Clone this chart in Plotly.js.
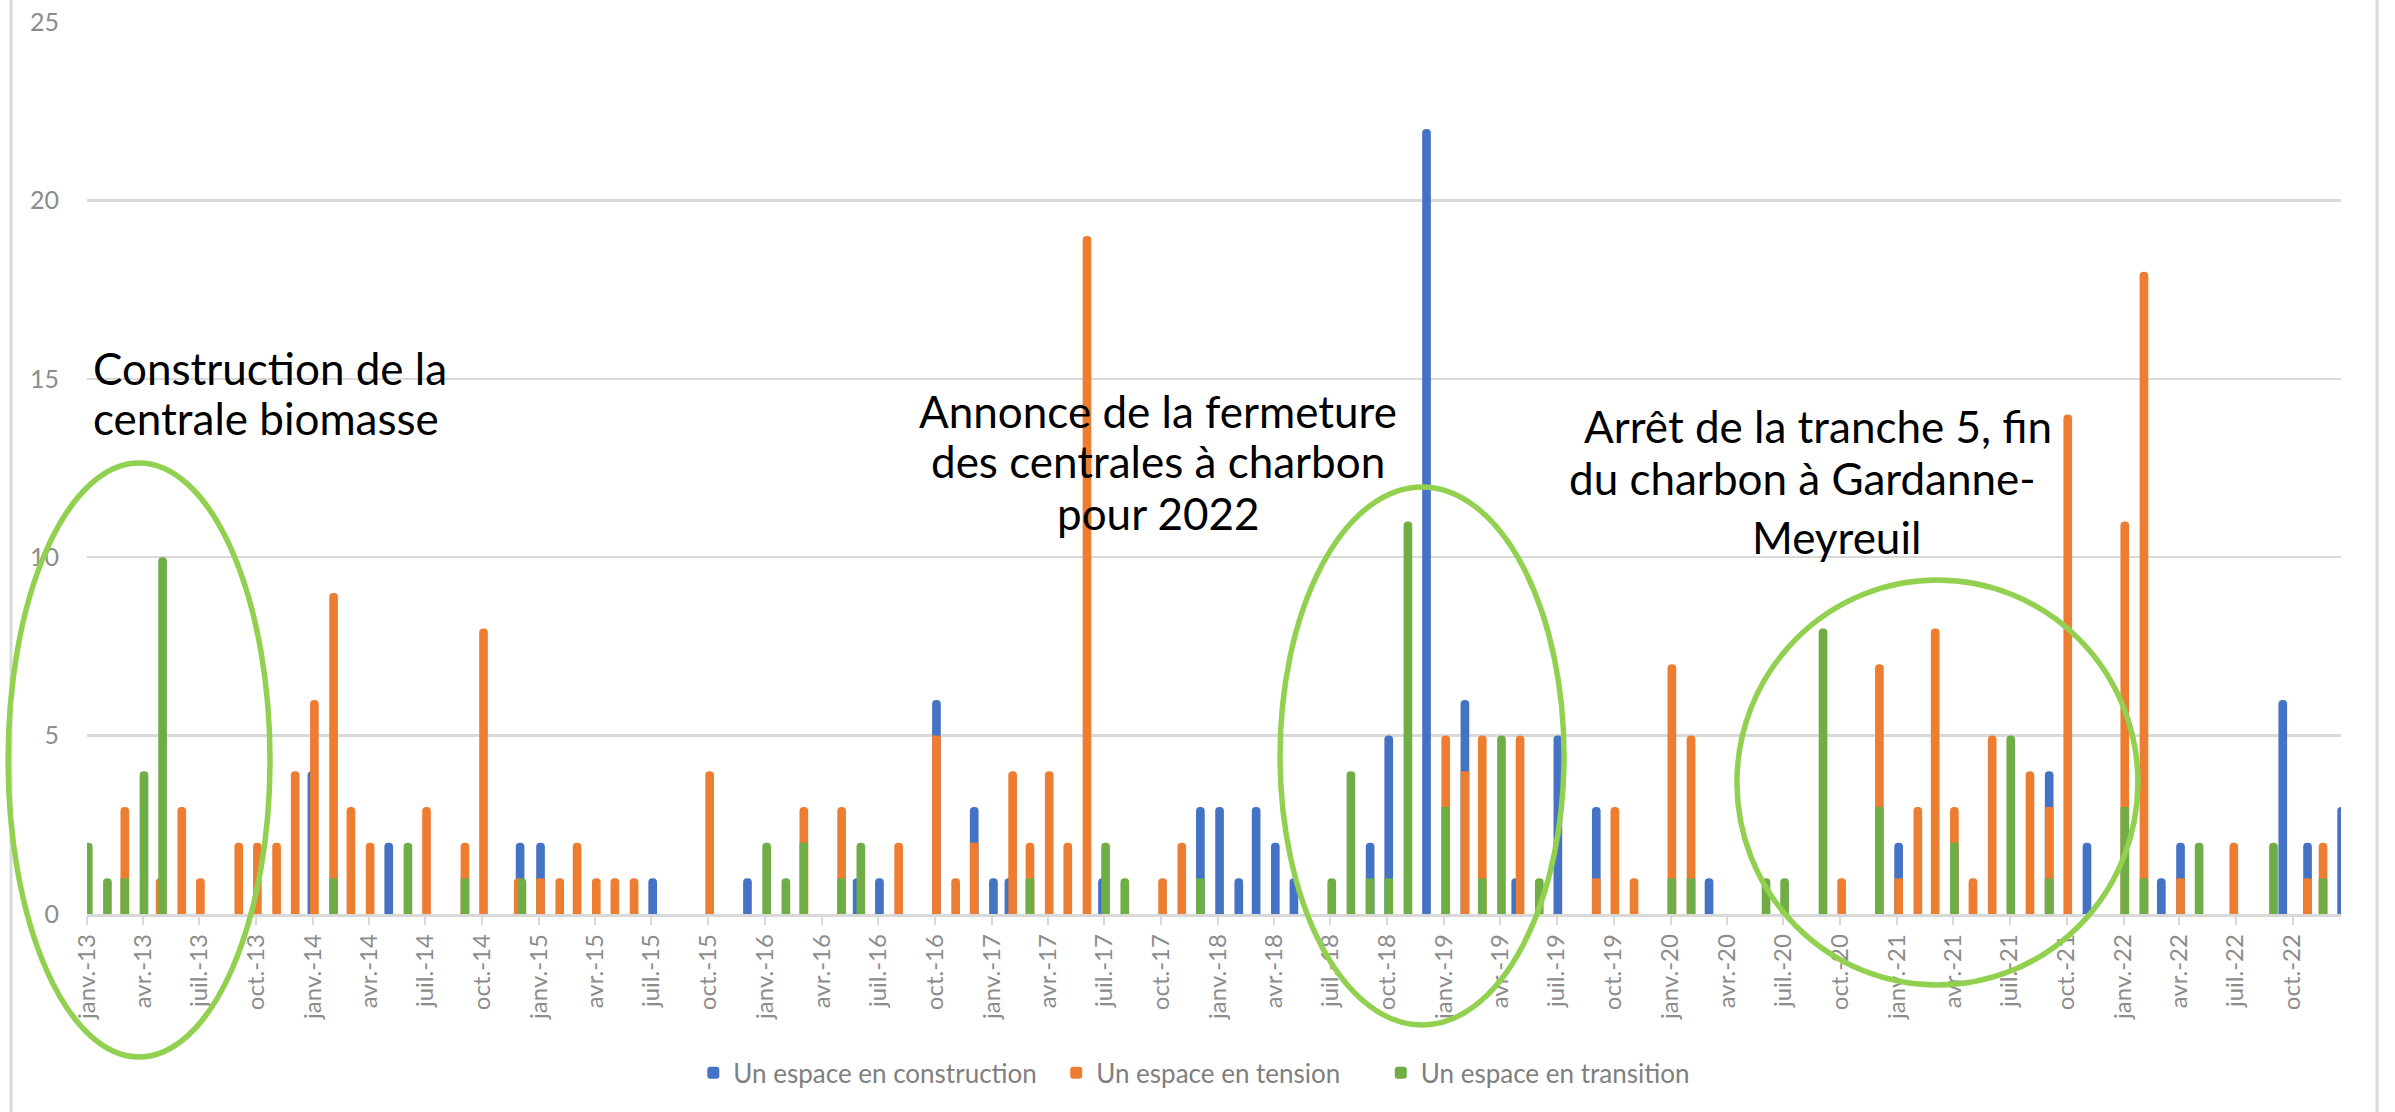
<!DOCTYPE html>
<html>
<head>
<meta charset="utf-8">
<script src="https://cdn.plot.ly/plotly-3.0.1.min.js"></script>
<style>html,body{margin:0;padding:0;background:#fff;}#chart{width:2395px;height:1112px;}</style>
</head>
<body>
<div id="chart"></div>
<script>
// ---- data ----
const seriesNames = ["Un espace en construction", "Un espace en tension", "Un espace en transition"];

const constructionDates = ["2013-12-30","2014-05-03","2014-12-01","2015-01-03","2015-07-03","2015-12-03","2016-05-28","2016-07-03","2016-10-03","2016-12-03","2017-01-03","2017-01-28","2017-06-28","2017-12-03","2018-01-03","2018-02-03","2018-03-03","2018-04-03","2018-05-03","2018-09-03","2018-10-03","2018-12-03","2019-02-03","2019-04-26","2019-07-03","2019-09-03","2020-03-03","2021-01-03","2021-09-03","2021-11-03","2022-03-03","2022-04-03","2022-09-15","2022-10-25","2022-12-19"];
const constructionValues = [4,2,2,2,1,1,1,1,6,3,1,1,1,3,3,1,3,2,1,2,5,22,6,1,5,3,1,2,4,2,1,2,6,2,3];

const tensionDates = ["2013-03-03","2013-04-29","2013-06-03","2013-07-03","2013-09-03","2013-10-03","2013-11-03","2013-12-03","2014-01-03","2014-02-03","2014-03-03","2014-04-03","2014-07-03","2014-09-03","2014-10-03","2014-11-28","2015-01-03","2015-02-03","2015-03-03","2015-04-03","2015-05-03","2015-06-03","2015-10-03","2016-03-03","2016-05-03","2016-08-03","2016-10-03","2016-11-03","2016-12-03","2017-02-03","2017-03-03","2017-04-03","2017-05-03","2017-06-03","2017-10-03","2017-11-03","2019-01-03","2019-02-03","2019-03-03","2019-05-03","2019-09-03","2019-10-03","2019-11-03","2020-01-03","2020-02-03","2020-10-03","2020-12-03","2021-01-03","2021-02-03","2021-03-03","2021-04-03","2021-05-03","2021-06-03","2021-08-03","2021-09-03","2021-10-03","2022-01-03","2022-02-03","2022-04-03","2022-06-28","2022-10-25","2022-11-19"];
const tensionValues = [3,1,3,1,2,2,2,4,6,9,3,2,3,2,8,1,1,1,2,1,1,1,4,3,3,2,5,1,2,4,2,4,2,19,1,2,5,4,5,5,1,3,1,7,5,1,7,1,3,8,3,1,5,4,3,14,11,18,1,2,1,2];

const transitionDates = ["2013-01-03","2013-02-03","2013-03-03","2013-04-03","2013-05-03","2014-02-03","2014-06-03","2014-09-03","2014-12-04","2016-01-03","2016-02-03","2016-03-03","2016-05-03","2016-06-03","2017-03-03","2017-07-03","2017-08-03","2017-12-03","2018-07-03","2018-08-03","2018-09-03","2018-10-03","2018-11-03","2019-01-03","2019-03-03","2019-04-03","2019-06-03","2020-01-03","2020-02-03","2020-06-03","2020-07-03","2020-09-03","2020-12-03","2021-04-03","2021-07-03","2021-09-03","2022-01-03","2022-02-03","2022-05-03","2022-08-31","2022-11-19"];
const transitionValues = [2,1,1,4,10,1,2,1,1,2,1,2,1,2,1,2,1,1,1,4,1,1,11,3,1,5,1,1,1,1,1,8,3,2,5,1,3,1,2,2,1];

const tickDates = ["2013-01-01","2013-04-01","2013-07-01","2013-10-01","2014-01-01","2014-04-01","2014-07-01","2014-10-01","2015-01-01","2015-04-01","2015-07-01","2015-10-01","2016-01-01","2016-04-01","2016-07-01","2016-10-01","2017-01-01","2017-04-01","2017-07-01","2017-10-01","2018-01-01","2018-04-01","2018-07-01","2018-10-01","2019-01-01","2019-04-01","2019-07-01","2019-10-01","2020-01-01","2020-04-01","2020-07-01","2020-10-01","2021-01-01","2021-04-01","2021-07-01","2021-10-01","2022-01-01","2022-04-01","2022-07-01","2022-10-01"];
const tickLabels = ["janv.-13","avr.-13","juil.-13","oct.-13","janv.-14","avr.-14","juil.-14","oct.-14","janv.-15","avr.-15","juil.-15","oct.-15","janv.-16","avr.-16","juil.-16","oct.-16","janv.-17","avr.-17","juil.-17","oct.-17","janv.-18","avr.-18","juil.-18","oct.-18","janv.-19","avr.-19","juil.-19","oct.-19","janv.-20","avr.-20","juil.-20","oct.-20","janv.-21","avr.-21","juil.-21","oct.-21","janv.-22","avr.-22","juil.-22","oct.-22"];

const annotationLines = [
  "Construction de la", "centrale biomasse",
  "Annonce de la fermeture", "des centrales à charbon", "pour 2022",
  "Arrêt de la tranche 5, fin", "du charbon à Gardanne-", "Meyreuil"
];

// ---- styling ----
const colors = ["#4472C4", "#ED7D31", "#70AD47"];
const DAY = 86400000;
const barWidth = 14 * DAY;
const FONT = "Lato, 'Open Sans', sans-serif";

function barTrace(name, x, y, color, legendId) {
  return {
    type: "bar", name: name, x: x, y: y, width: barWidth, legend: legendId,
    marker: {color: color, line: {width: 0}},
    hoverinfo: "x+y+name"
  };
}

const traces = [
  barTrace(seriesNames[0], constructionDates, constructionValues, colors[0], "legend"),
  barTrace(seriesNames[1], tensionDates, tensionValues, colors[1], "legend2"),
  barTrace(seriesNames[2], transitionDates, transitionValues, colors[2], "legend3")
];

const annFont = {family: FONT, size: 44, color: "#000000"};
function ann(text, x, y, xanchor) {
  return {text: text, x: x, y: y, xref: "paper", yref: "paper", xanchor: xanchor, yanchor: "middle",
          showarrow: false, font: annFont};
}

const ellipseLine = {color: "#92D050", width: 5.5};
const legendFont = {family: FONT, size: 26, color: "#7f7f7f"};
function legendAt(x) {
  return {orientation: "h", x: x, xanchor: "left", y: -0.178, yanchor: "middle",
          font: legendFont, itemwidth: 30, bgcolor: "rgba(0,0,0,0)"};
}

const layout = {
  width: 2395, height: 1112,
  margin: {l: 87, r: 54, t: 22, b: 198, pad: 0},
  paper_bgcolor: "#ffffff", plot_bgcolor: "#ffffff",
  barmode: "overlay",
  barcornerradius: 4,
  showlegend: true,
  legend: legendAt(0.2690),
  legend2: legendAt(0.4300),
  legend3: legendAt(0.5740),
  xaxis: {
    type: "date", range: ["2013-01-01", "2022-12-18"],
    tickmode: "array", tickvals: tickDates, ticktext: tickLabels, tickangle: -90,
    tickfont: {family: FONT, size: 24, color: "#8c8c8c"},
    ticks: "outside", ticklen: 8, tickwidth: 2, tickcolor: "#d9d9d9",
    showline: true, linecolor: "#d9d9d9", linewidth: 2.5,
    showgrid: false, zeroline: false, fixedrange: true
  },
  yaxis: {
    range: [0, 25], tickmode: "linear", tick0: 0, dtick: 5,
    tickfont: {family: FONT, size: 25, color: "#8c8c8c"},
    ticks: "outside", ticklen: 22, tickcolor: "rgba(0,0,0,0)",
    showgrid: true, gridcolor: "#d9d9d9", gridwidth: 2.5,
    zeroline: false, showline: false, fixedrange: true
  },
  shapes: [
    {type: "rect", xref: "paper", yref: "paper", x0: -0.0337, x1: 1.016, y0: -0.35, y1: 1.2,
     line: {color: "#d9d9d9", width: 3}, fillcolor: "rgba(0,0,0,0)", layer: "below"},
    {type: "circle", xref: "paper", yref: "paper", x0: -0.035, x1: 0.0812, y0: -0.1603, y1: 0.5056, line: ellipseLine},
    {type: "circle", xref: "paper", yref: "paper", x0: 0.5293, x1: 0.6553, y0: -0.1244, y1: 0.4787, line: ellipseLine},
    {type: "circle", xref: "paper", yref: "paper", x0: 0.7320, x1: 0.9099, y0: -0.0796, y1: 0.3744, line: ellipseLine}
  ],
  annotations: [
    ann(annotationLines[0], 0.0018, 0.612, "left"),
    ann(annotationLines[1], 0.0018, 0.5565, "left"),
    ann(annotationLines[2], 0.4752, 0.5640, "center"),
    ann(annotationLines[3], 0.4752, 0.5078, "center"),
    ann(annotationLines[4], 0.4752, 0.4495, "center"),
    ann(annotationLines[5], 0.768, 0.5470, "center"),
    ann(annotationLines[6], 0.761, 0.4890, "center"),
    ann(annotationLines[7], 0.776, 0.4230, "center")
  ]
};

Plotly.newPlot("chart", traces, layout, {displayModeBar: false, staticPlot: true});
</script>
</body>
</html>
